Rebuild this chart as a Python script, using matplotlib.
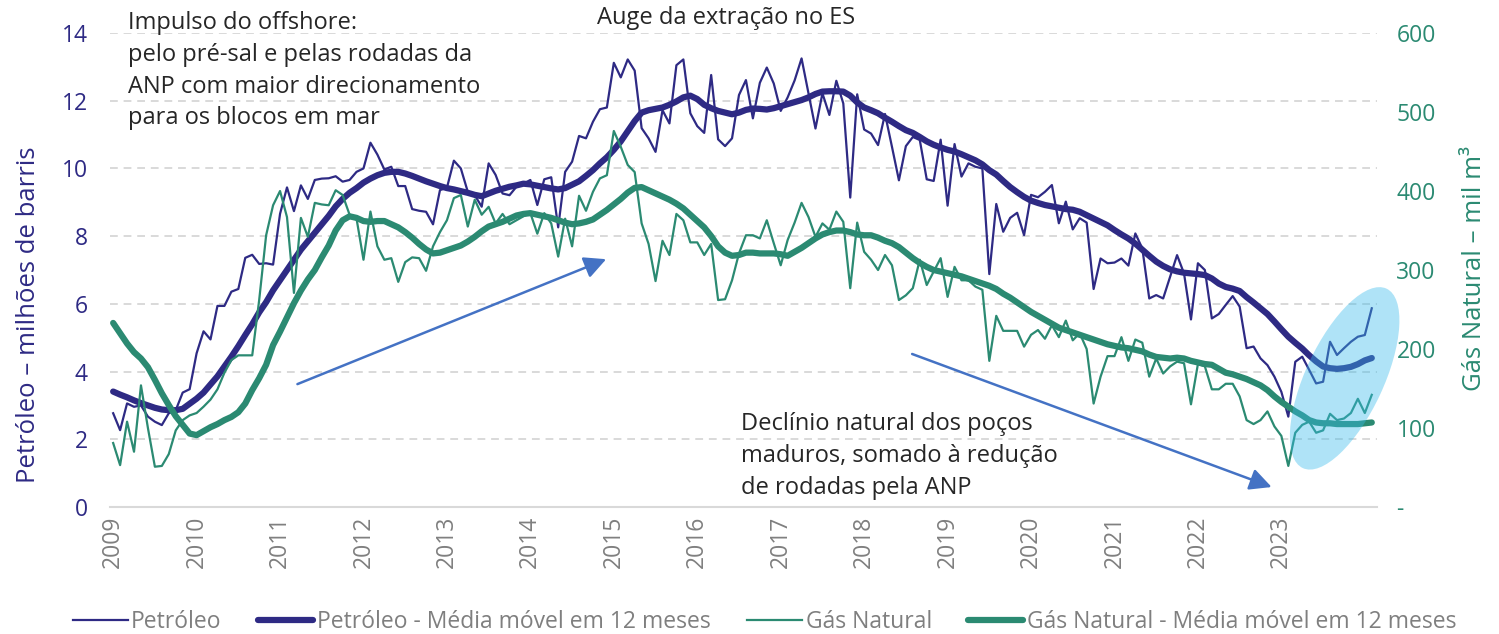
import numpy as np
import matplotlib
matplotlib.use('Agg')
import matplotlib.pyplot as plt
from matplotlib.patches import Ellipse
from matplotlib.transforms import IdentityTransform

plt.rcParams['font.family'] = ['Open Sans', 'DejaVu Sans']

########################################################################
# dados mensais a partir de jan/2009
# petróleo em milhões de barris, gás em mil m³

petroleo = [2.77, 2.27, 3.06, 2.96, 3.0, 2.67, 2.52, 2.42, 2.77, 2.86,
            3.38, 3.48, 4.54, 5.19, 4.95, 5.94, 5.94, 6.36, 6.44, 7.36,
            7.45, 7.18, 7.2, 7.16, 8.66, 9.44, 8.74, 9.5, 9.1, 9.66,
            9.7, 9.71, 9.77, 9.61, 9.66, 9.9, 10.0, 10.76, 10.41, 9.97,
            10.05, 9.48, 9.48, 8.8, 8.75, 8.72, 8.35, 9.36, 9.43, 10.23,
            10.0, 9.31, 9.21, 8.87, 10.15, 9.81, 9.26, 9.21, 9.46, 9.55,
            9.66, 8.92, 9.68, 9.74, 8.26, 9.9, 10.2, 10.96, 10.89, 11.38,
            11.75, 11.8, 13.12, 12.69, 13.22, 12.89, 11.19, 10.89, 10.49, 11.72,
            11.33, 13.05, 13.22, 11.63, 11.25, 11.05, 12.76, 10.86, 10.66, 10.89,
            12.17, 12.61, 11.48, 12.53, 12.98, 12.51, 11.7, 12.1, 12.6, 13.25,
            12.22, 11.18, 12.22, 11.58, 12.59, 11.92, 9.14, 12.19, 11.15, 11.03,
            10.69, 11.61, 10.64, 9.65, 10.66, 10.93, 10.84, 9.68, 9.63, 10.85,
            8.9, 10.72, 9.76, 10.15, 10.05, 10.0, 6.88, 8.95, 8.13, 8.54,
            8.69, 8.03, 9.22, 9.15, 9.31, 9.51, 8.38, 9.02, 8.2, 8.53,
            8.4, 6.44, 7.34, 7.2, 7.22, 7.34, 7.13, 8.08, 7.64, 6.16,
            6.26, 6.16, 6.8, 7.44, 6.9, 5.54, 7.2, 7.0, 5.57, 5.7,
            5.97, 6.23, 5.92, 4.69, 4.74, 4.39, 4.19, 3.85, 3.4, 2.67,
            4.29, 4.44, 4.05, 3.65, 3.7, 4.88, 4.49, 4.69, 4.88, 5.03,
            5.08, 5.87]

petroleo_mm = [3.41, 3.32, 3.24, 3.15, 3.07, 3.0, 2.93, 2.88, 2.86, 2.86,
               2.9, 3.05, 3.2, 3.38, 3.62, 3.86, 4.15, 4.44, 4.75, 5.08,
               5.4, 5.75, 6.05, 6.4, 6.7, 7.0, 7.3, 7.6, 7.85, 8.1,
               8.35, 8.6, 8.88, 9.1, 9.28, 9.42, 9.58, 9.7, 9.8, 9.87,
               9.9, 9.9, 9.85, 9.78, 9.7, 9.62, 9.55, 9.48, 9.42, 9.38,
               9.33, 9.28, 9.22, 9.18, 9.26, 9.34, 9.4, 9.46, 9.5, 9.55,
               9.53, 9.49, 9.45, 9.41, 9.38, 9.42, 9.52, 9.62, 9.78, 9.95,
               10.15, 10.33, 10.55, 10.8, 11.1, 11.4, 11.65, 11.72, 11.76, 11.8,
               11.88, 11.98, 12.1, 12.15, 12.05, 11.88, 11.78, 11.7, 11.65, 11.6,
               11.65, 11.73, 11.77, 11.76, 11.74, 11.78, 11.84, 11.9, 11.96, 12.02,
               12.1, 12.2, 12.27, 12.28, 12.28, 12.27, 12.15, 11.95, 11.8, 11.72,
               11.63, 11.5, 11.38, 11.25, 11.13, 11.05, 10.93, 10.8, 10.7, 10.62,
               10.55, 10.5, 10.42, 10.33, 10.24, 10.12, 9.95, 9.82, 9.63, 9.45,
               9.3, 9.16, 9.05, 8.98, 8.92, 8.88, 8.84, 8.8, 8.78, 8.72,
               8.62, 8.52, 8.42, 8.32, 8.18, 8.05, 7.93, 7.78, 7.6, 7.42,
               7.25, 7.12, 7.02, 6.96, 6.92, 6.9, 6.88, 6.85, 6.75, 6.6,
               6.5, 6.45, 6.38, 6.2, 6.04, 5.87, 5.7, 5.48, 5.25, 5.03,
               4.85, 4.68, 4.48, 4.3, 4.15, 4.1, 4.08, 4.1, 4.14, 4.22,
               4.33, 4.4]

gas = [81, 53, 108, 70, 154, 100, 51, 52, 67, 97,
       110, 116, 119, 127, 136, 149, 170, 186, 192, 192,
       192, 262, 344, 382, 400, 367, 271, 366, 342, 385,
       383, 382, 401, 395, 370, 365, 313, 374, 330, 313,
       315, 285, 310, 316, 315, 299, 330, 348, 363, 391,
       395, 355, 389, 370, 380, 359, 371, 358, 363, 368,
       372, 346, 372, 359, 317, 365, 330, 394, 375, 399,
       416, 420, 476, 456, 433, 424, 359, 333, 286, 337,
       319, 371, 363, 335, 335, 319, 333, 262, 263, 287,
       321, 344, 344, 340, 363, 334, 306, 338, 360, 385,
       367, 342, 359, 351, 374, 361, 277, 360, 323, 313,
       300, 319, 306, 262, 268, 277, 313, 281, 298, 315,
       266, 304, 287, 287, 279, 275, 185, 242, 223, 223,
       223, 203, 218, 224, 213, 230, 215, 236, 211, 220,
       200, 131, 165, 191, 191, 215, 185, 212, 208, 165,
       188, 169, 178, 184, 182, 130, 181, 178, 149, 149,
       156, 156, 140, 110, 105, 110, 121, 102, 90, 52,
       94, 104, 108, 94, 97, 118, 110, 112, 119, 137,
       119, 142]

gas_mm = [233, 220, 207, 196, 188, 177, 161, 144, 129, 115,
          104, 93, 91, 96, 101, 105, 110, 114, 120, 131,
          148, 163, 180, 205, 222, 240, 258, 274, 288, 300,
          316, 331, 350, 363, 368, 366, 362, 361, 362, 362,
          358, 354, 348, 341, 333, 326, 321, 322, 325, 328,
          331, 336, 342, 349, 355, 358, 361, 365, 369, 371,
          372, 370, 368, 366, 363, 360, 358, 359, 361, 364,
          370, 376, 383, 390, 398, 404, 405, 401, 397, 393,
          389, 384, 378, 370, 362, 354, 343, 330, 322, 318,
          319, 322, 322, 321, 321, 321, 320, 318, 323, 328,
          334, 340, 345, 348, 350, 350, 348, 345, 344, 344,
          341, 337, 334, 329, 322, 315, 309, 304, 300, 298,
          296, 294, 292, 289, 286, 283, 280, 276, 270, 265,
          259, 253, 247, 242, 237, 232, 227, 224, 221, 218,
          215, 212, 209, 206, 204, 202, 201, 199, 197, 193,
          190, 189, 188, 189, 188, 185, 183, 181, 180, 175,
          170, 168, 165, 162, 158, 154, 148, 140, 133, 127,
          121, 116, 110, 107, 106, 106, 105, 105, 105, 105,
          106, 107]

anos = ['2009', '2010', '2011', '2012', '2013', '2014', '2015', '2016',
        '2017', '2018', '2019', '2020', '2021', '2022', '2023']
ticks_esq = [0, 2, 4, 6, 8, 10, 12, 14]
ticks_dir = [0, 100, 200, 300, 400, 500, 600]
rotulos_dir = ['-', '100', '200', '300', '400', '500', '600']

azul = '#2e2a84'
verde = '#2b8a72'
cinza = '#7f7f7f'
grade = '#d9d9d9'
seta = '#4472c4'

meses = np.arange(len(petroleo))

################# FIGURA #########################################
fig = plt.figure(figsize=(14.99, 6.34), dpi=100)
ax = fig.add_axes([0.0734, 0.2003, 0.8452, 0.7476])
ax2 = ax.twinx()

l1, = ax.plot(meses, petroleo, color=azul, lw=1.6, label='Petróleo')
l2, = ax.plot(meses, petroleo_mm, color=azul, lw=4.5, solid_capstyle='round',
              label='Petróleo - Média móvel em 12 meses')
l3, = ax2.plot(meses, gas, color=verde, lw=1.6, label='Gás Natural')
l4, = ax2.plot(meses, gas_mm, color=verde, lw=4.5, solid_capstyle='round',
               label='Gás Natural - Média móvel em 12 meses')

ax.set_xlim(-0.45, 181.75)
ax.set_ylim(0, 14)
ax2.set_ylim(0, 600)

ax.set_yticks(ticks_esq)
ax2.set_yticks(ticks_dir)
ax2.set_yticklabels(rotulos_dir)
ax.set_xticks([12 * k for k in range(len(anos))])
ax.set_xticklabels(anos)

ax.set_axisbelow(True)
ax.yaxis.grid(True, color=grade, ls=(0, (4, 3)), lw=1.4)
for s in ['top', 'left', 'right']:
    ax.spines[s].set_visible(False)
    ax2.spines[s].set_visible(False)
ax2.spines['bottom'].set_visible(False)
ax.spines['bottom'].set_color(grade)
ax.spines['bottom'].set_linewidth(1.5)

ax.tick_params(axis='y', length=0, pad=16, labelsize=16.5, labelcolor=azul)
ax2.tick_params(axis='y', length=0, pad=14, labelsize=16.5, labelcolor=verde)
ax.tick_params(axis='x', length=0, pad=6, labelsize=16.5, labelcolor=cinza,
               labelrotation=90)

ax.set_ylabel('Petróleo – milhões de barris', color=azul, fontsize=18.5)
ax.yaxis.set_label_coords(-0.0545, 0.405)
ax2.set_ylabel('Gás Natural – mil m³', color=verde, fontsize=18.5)
ax2.yaxis.set_label_coords(1.067, 0.504)

################# SETAS E TEXTOS #################################
ax2.annotate('', xy=(70.9, 7.32), xytext=(26.5, 3.63),
             xycoords=ax.transData, textcoords=ax.transData,
             arrowprops=dict(arrowstyle='-|>,head_length=0.6,head_width=0.3',
                             color=seta, lw=1.8, mutation_scale=22,
                             shrinkA=0, shrinkB=0), zorder=6)
ax2.annotate('', xy=(166.6, 0.59), xytext=(114.9, 4.52),
             xycoords=ax.transData, textcoords=ax.transData,
             arrowprops=dict(arrowstyle='-|>,head_length=0.6,head_width=0.3',
                             color=seta, lw=1.8, mutation_scale=22,
                             shrinkA=0, shrinkB=0), zorder=6)

fig.text(0.0854, 0.982, 'Impulso do offshore:\npelo pré-sal e pelas rodadas da\n'
         'ANP com maior direcionamento\npara os blocos em mar',
         ha='left', va='top', fontsize=17, color='#262626', linespacing=1.42)
fig.text(0.4843, 0.99, 'Auge da extração no ES', ha='center', va='top',
         fontsize=17, color='#262626')
fig.text(0.4943, 0.35, 'Declínio natural dos poços\nmaduros, somado à redução\n'
         'de rodadas pela ANP', ha='left', va='top', fontsize=17,
         color='#262626', linespacing=1.45)

# elipse de destaque no fim da série
cx, cy = ax.transData.transform((177.1, 3.8))
elipse = Ellipse((cx, cy), 198, 78, angle=65, transform=IdentityTransform(),
                 facecolor='#39bbeb', edgecolor='none', alpha=0.4, zorder=10)
fig.add_artist(elipse)

################# LEGENDA ########################################
leg = fig.legend([l1, l2, l3, l4], [l.get_label() for l in [l1, l2, l3, l4]],
                 loc='center', bbox_to_anchor=(0.51, 0.019), ncol=4,
                 frameon=False, fontsize=16.5, handlelength=2.4,
                 handletextpad=0.15, columnspacing=1.6)
for t in leg.get_texts():
    t.set_color(cinza)

fig.savefig('out.png', dpi=100)
